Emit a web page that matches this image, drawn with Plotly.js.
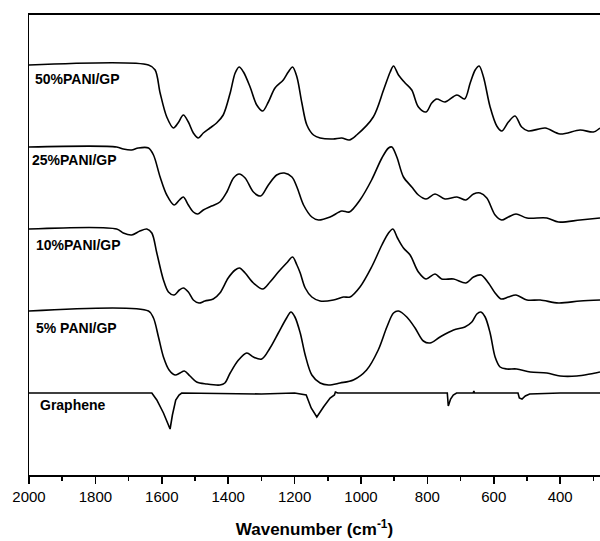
<!DOCTYPE html>
<html>
<head>
<meta charset="utf-8">
<script src="https://cdn.plot.ly/plotly-3.0.1.min.js"></script>
<style>html,body{margin:0;padding:0;background:#fff;}#chart{width:600px;height:541px;}</style>
</head>
<body>
<div id="chart"></div>
<script>
// Wavenumber (cm^-1) and offset transmittance (a.u.)
const wn50 = [2000,1640,1620,1605,1585,1565,1551,1535,1520,1505,1490,1475,1455,1435,1415,1394,1379,1367,1354,1334,1314,1296,1279,1259,1234,1219,1206,1193,1178,1163,1143,1123,1084,1058,1035,1013,963,932,912,902,887,867,847,827,804,787,772,747,711,688,671,656,644,631,611,591,576,556,536,516,496,445,400,340,300,280];
const t50  = [410,410,405,382,358,347,352,360,353,342,337,342,347,352,360,382,402,408,403,388,370,364,373,387,395,403,408,398,372,350,340,337,336,337,335,340,358,385,403,409,400,392,385,368,363,372,376,373,380,376,392,405,409,398,368,349,344,353,359,348,344,347,341,345,343,347];

const wn25 = [2000,1736,1716,1691,1671,1640,1625,1605,1585,1563,1547,1535,1520,1505,1492,1475,1450,1425,1404,1384,1367,1349,1324,1302,1279,1254,1231,1208,1193,1173,1148,1128,1093,1058,1035,1003,968,937,917,907,892,872,847,827,804,777,747,711,684,661,641,621,596,576,556,533,500,440,405,340,280];
const t25  = [328,328,326,325,327,327,320,298,280,270,275,278,270,263,261,265,269,273,283,297,301,297,283,279,290,300,302,298,288,270,258,255,258,264,263,275,295,317,327,328,318,298,288,280,276,281,276,278,275,281,282,277,260,255,258,261,257,257,253,255,257];

const wn10 = [2000,1736,1716,1691,1666,1645,1630,1615,1595,1580,1563,1547,1535,1520,1505,1488,1470,1445,1425,1400,1379,1366,1349,1324,1296,1274,1249,1224,1206,1193,1183,1168,1148,1123,1083,1053,1033,1003,968,937,917,904,890,872,852,827,804,777,757,721,684,661,638,616,596,578,556,533,500,460,405,340,280];
const t10  = [246,246,242,240,244,246,242,222,195,183,180,185,187,183,175,172,174,176,182,197,205,207,202,192,186,193,203,212,218,210,202,187,178,174,175,178,178,188,208,230,242,246,237,227,220,203,196,201,196,196,192,198,200,192,182,176,178,180,175,175,172,174,175];

const wn5 = [2000,1640,1625,1610,1595,1578,1560,1545,1532,1515,1495,1465,1425,1410,1394,1369,1344,1324,1299,1274,1249,1224,1211,1199,1183,1168,1148,1123,1098,1063,1023,983,948,922,902,887,862,837,812,792,762,721,687,666,651,639,626,611,596,581,561,531,490,440,400,350,310,280];
const t5  = [164,164,157,138,118,105,100,102,104,99,93,91,90,92,102,115,122,118,116,127,142,157,163,158,142,120,100,92,90,92,95,105,125,148,162,164,158,147,134,132,138,145,148,153,161,163,158,142,118,108,106,106,103,102,99,99,101,103];

const wnG = [2000,1630,1615,1595,1575,1568,1558,1548,1540,1300,1200,1165,1150,1133,1113,1093,1080,1077,1070,950,740,737,730,722,712,662,660,658,527,523,515,505,492,400,280];
const tG  = [82,82,75,62,46,60,75,80,82,81,82,80,67,58,68,77,80,83,82,82,82,69,76,80,82,82,84,82,82,77,76,79,81,82,82];

const seriesNames = ['50%PANI/GP','25%PANI/GP','10%PANI/GP','5% PANI/GP','Graphene'];
const labelX = [1988,1998,1984,1984,1972];
const labelY = [396,315,230,147,70];

const font = '"Liberation Sans", Arial, sans-serif';
const mk = (x,y,shape) => ({x:x, y:y, type:'scatter', mode:'lines',
  line:{color:'#000', width:1.6, shape:shape, smoothing:0.9}, hoverinfo:'skip', showlegend:false});

const data = [mk(wn50,t50,'spline'), mk(wn25,t25,'spline'), mk(wn10,t10,'spline'), mk(wn5,t5,'spline'), mk(wnG,tG,'linear')];

const annotations = seriesNames.map((s,i) => ({
  x: labelX[i], y: labelY[i], xref:'x', yref:'y', text:'<b>'+s+'</b>', showarrow:false,
  xanchor:'left', yanchor:'middle', font:{family:font, size:14, color:'#000'}
}));

const layout = {
  width:600, height:541,
  margin:{l:29, r:0, t:15, b:66},
  paper_bgcolor:'#fff', plot_bgcolor:'#fff',
  font:{family:font, color:'#000'},
  xaxis:{
    range:[2000,280], showgrid:false, zeroline:false,
    showline:true, linewidth:2, linecolor:'#000', mirror:true,
    ticks:'outside', ticklen:7, tickwidth:1.5, tickcolor:'#000',
    tick0:0, dtick:200,
    minor:{dtick:100, ticks:'outside', ticklen:4, tickwidth:1.5, tickcolor:'#000'},
    tickfont:{family:font, size:15, color:'#000'},
    title:{text:'<b>Wavenumber (cm<sup>-1</sup>)</b>', font:{family:font, size:17, color:'#000'}, standoff:19}
  },
  yaxis:{
    range:[0,460], showgrid:false, zeroline:false, showticklabels:false, ticks:'',
    showline:true, linewidth:1, linecolor:'#000'
  },
  annotations: annotations
};

Plotly.newPlot('chart', data, layout, {staticPlot:true, displayModeBar:false});
</script>
</body>
</html>
